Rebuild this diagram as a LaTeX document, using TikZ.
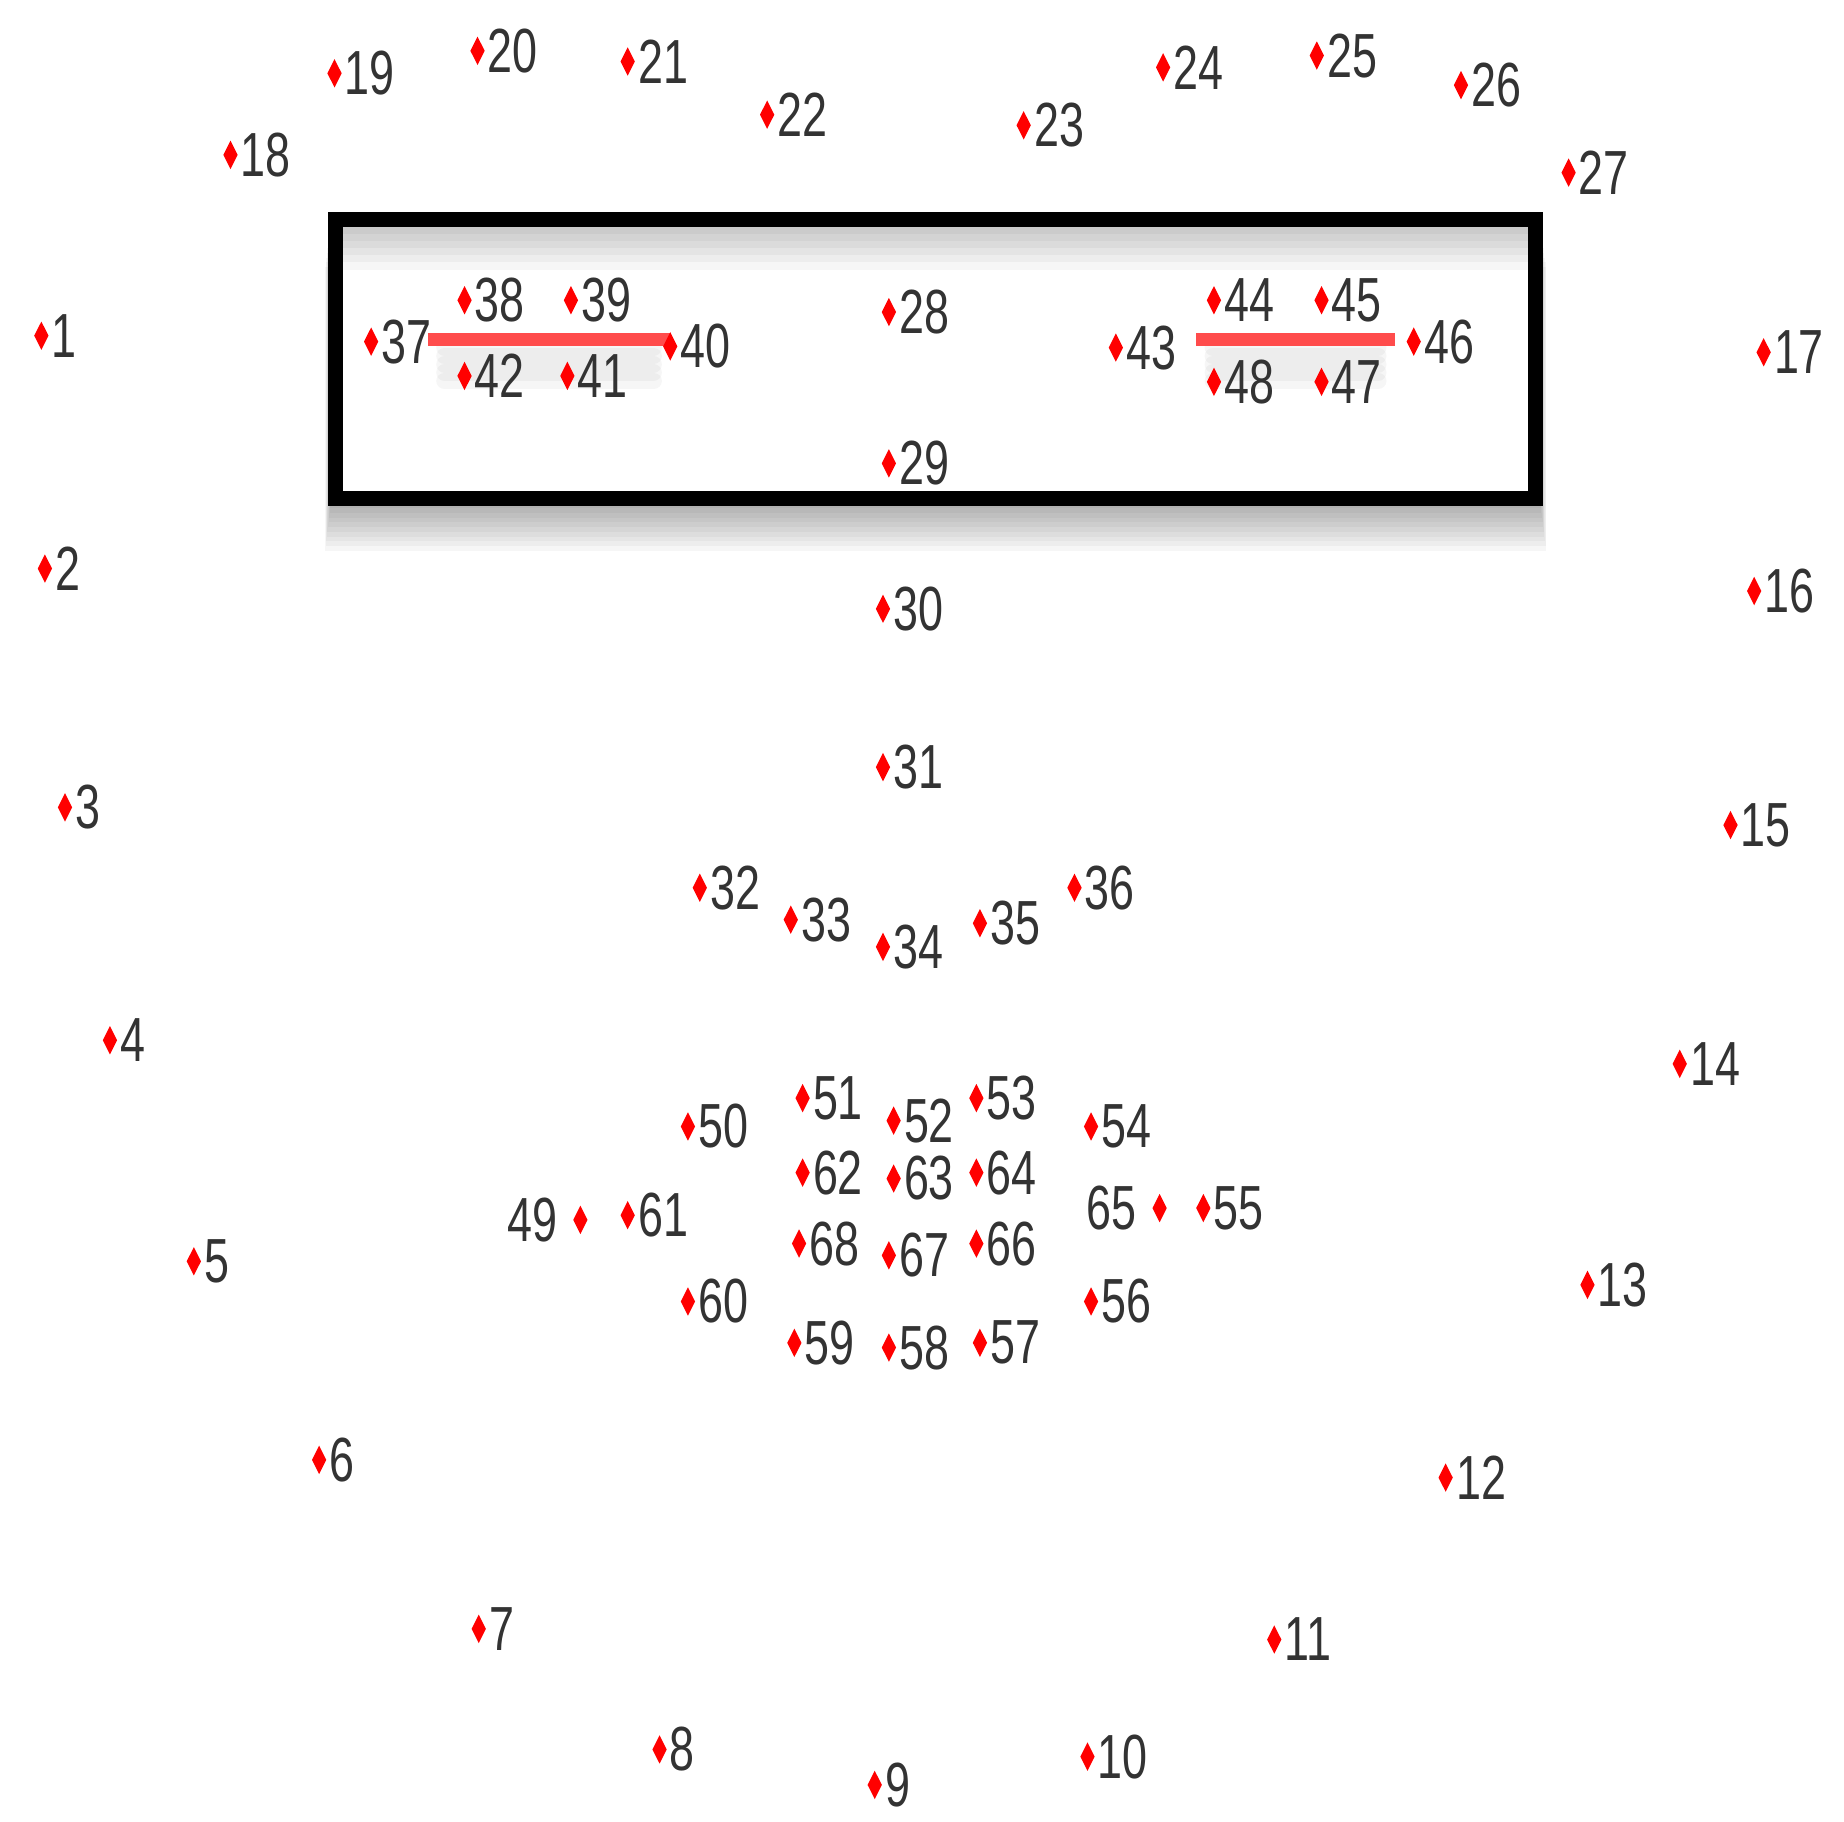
\documentclass[tikz,border=0pt]{standalone}
\usepackage{fontspec}
\setmainfont{Liberation Sans}
\usetikzlibrary{shapes.geometric}
\begin{document}
\begin{tikzpicture}[x=0.01cm,y=-0.01cm,
  pt/.style={diamond,fill=red,inner sep=0pt,minimum width=3.6pt,minimum height=7pt,aspect=0.5},
  lab/.style={inner sep=0.3pt,font=\fontsize{15}{15}\selectfont,text=black!80}]
\useasboundingbox (0,0) rectangle (1560,1541);
% shadow of box
\foreach \i in {1,...,10}{
  \fill[black,opacity=0.035] (280-\i*0.5,186+\i*4) rectangle (1303+\i*0.5,426+\i*4);
}
\fill[white] (290,192) rectangle (1293,416);
\foreach \i in {1,...,6}{
  \fill[black,opacity=0.035] (290,192) rectangle (1293,192+\i*6);
}
\draw[line width=3.6pt,black] (284,186) rectangle (1299,422);
\newcommand\lm[4]{\node[pt] (p#1) at (#2,#3) {}; \node[lab,anchor=west] (l#1) at (p#1.east) {\scalebox{0.72}[1]{#4}};}
\newcommand\lmL[4]{\node[pt] (p#1) at (#2,#3) {}; \node[lab,anchor=east] (l#1) at ([xshift=-3pt]p#1.west) {\scalebox{0.72}[1]{#4}};}
% eye lines with soft shadow
\coordinate (eL1) at (362,287); \coordinate (eL2) at (567,287);
\coordinate (eR1) at (1012,287); \coordinate (eR2) at (1180,287);
\foreach \i in {1,...,5}{
 \draw[black,opacity=0.035,line width=4pt,line cap=round] ([yshift=-\i*2pt,xshift=4pt]eL1) -- ([yshift=-\i*2pt,xshift=-4pt]eL2);
 \draw[black,opacity=0.035,line width=4pt,line cap=round] ([yshift=-\i*2pt,xshift=4pt]eR1) -- ([yshift=-\i*2pt,xshift=-4pt]eR2);}
\draw[red!70,line width=3pt] (eL1) -- (eL2);
\draw[red!70,line width=3pt] (eR1) -- (eR2);
\lm{1}{35}{284}{1}\lm{2}{38}{481}{2}\lm{3}{55}{683}{3}\lm{4}{93}{880}{4}
\lm{5}{164}{1067}{5}\lm{6}{270}{1235}{6}\lm{7}{405}{1378}{7}\lm{8}{558}{1480}{8}
\lm{9}{740}{1510}{9}\lm{10}{920}{1486}{10}\lm{11}{1078}{1387}{11}\lm{12}{1223}{1250}{12}
\lm{13}{1343}{1087}{13}\lm{14}{1421}{900}{14}\lm{15}{1464}{698}{15}\lm{16}{1484}{500}{16}
\lm{17}{1492}{298}{17}
\lm{18}{195}{131}{18}\lm{19}{283}{62}{19}\lm{20}{404}{43}{20}\lm{21}{531}{52}{21}
\lm{22}{649}{97}{22}\lm{23}{866}{106}{23}\lm{24}{984}{57}{24}\lm{25}{1114}{47}{25}
\lm{26}{1236}{72}{26}\lm{27}{1327}{146}{27}
\lm{28}{752}{264}{28}\lm{29}{752}{392}{29}\lm{30}{747}{515}{30}\lm{31}{747}{649}{31}
\lm{32}{592}{751}{32}\lm{33}{669}{778}{33}\lm{34}{747}{801}{34}\lm{35}{829}{781}{35}\lm{36}{909}{751}{36}
\lm{37}{314}{289}{37}\lm{38}{393}{254}{38}\lm{39}{483}{254}{39}\lm{40}{567}{293}{40}
\lm{41}{480}{318}{41}\lm{42}{393}{318}{42}\lm{43}{944}{294}{43}\lm{44}{1027}{254}{44}
\lm{45}{1118}{254}{45}\lm{46}{1196}{289}{46}\lm{47}{1118}{323}{47}\lm{48}{1027}{323}{48}
\lmL{49}{491}{1032}{49}\lm{50}{582}{953}{50}\lm{51}{679}{929}{51}\lm{52}{756}{948}{52}
\lm{53}{826}{929}{53}\lm{54}{923}{953}{54}\lm{55}{1018}{1022}{55}\lm{56}{923}{1101}{56}
\lm{57}{829}{1136}{57}\lm{58}{752}{1140}{58}\lm{59}{672}{1136}{59}\lm{60}{582}{1101}{60}
\lm{61}{531}{1028}{61}\lm{62}{679}{992}{62}\lm{63}{756}{997}{63}\lm{64}{826}{992}{64}
\lmL{65}{981}{1022}{65}\lm{66}{826}{1052}{66}\lm{67}{752}{1062}{67}\lm{68}{676}{1052}{68}
\end{tikzpicture}
\end{document}
